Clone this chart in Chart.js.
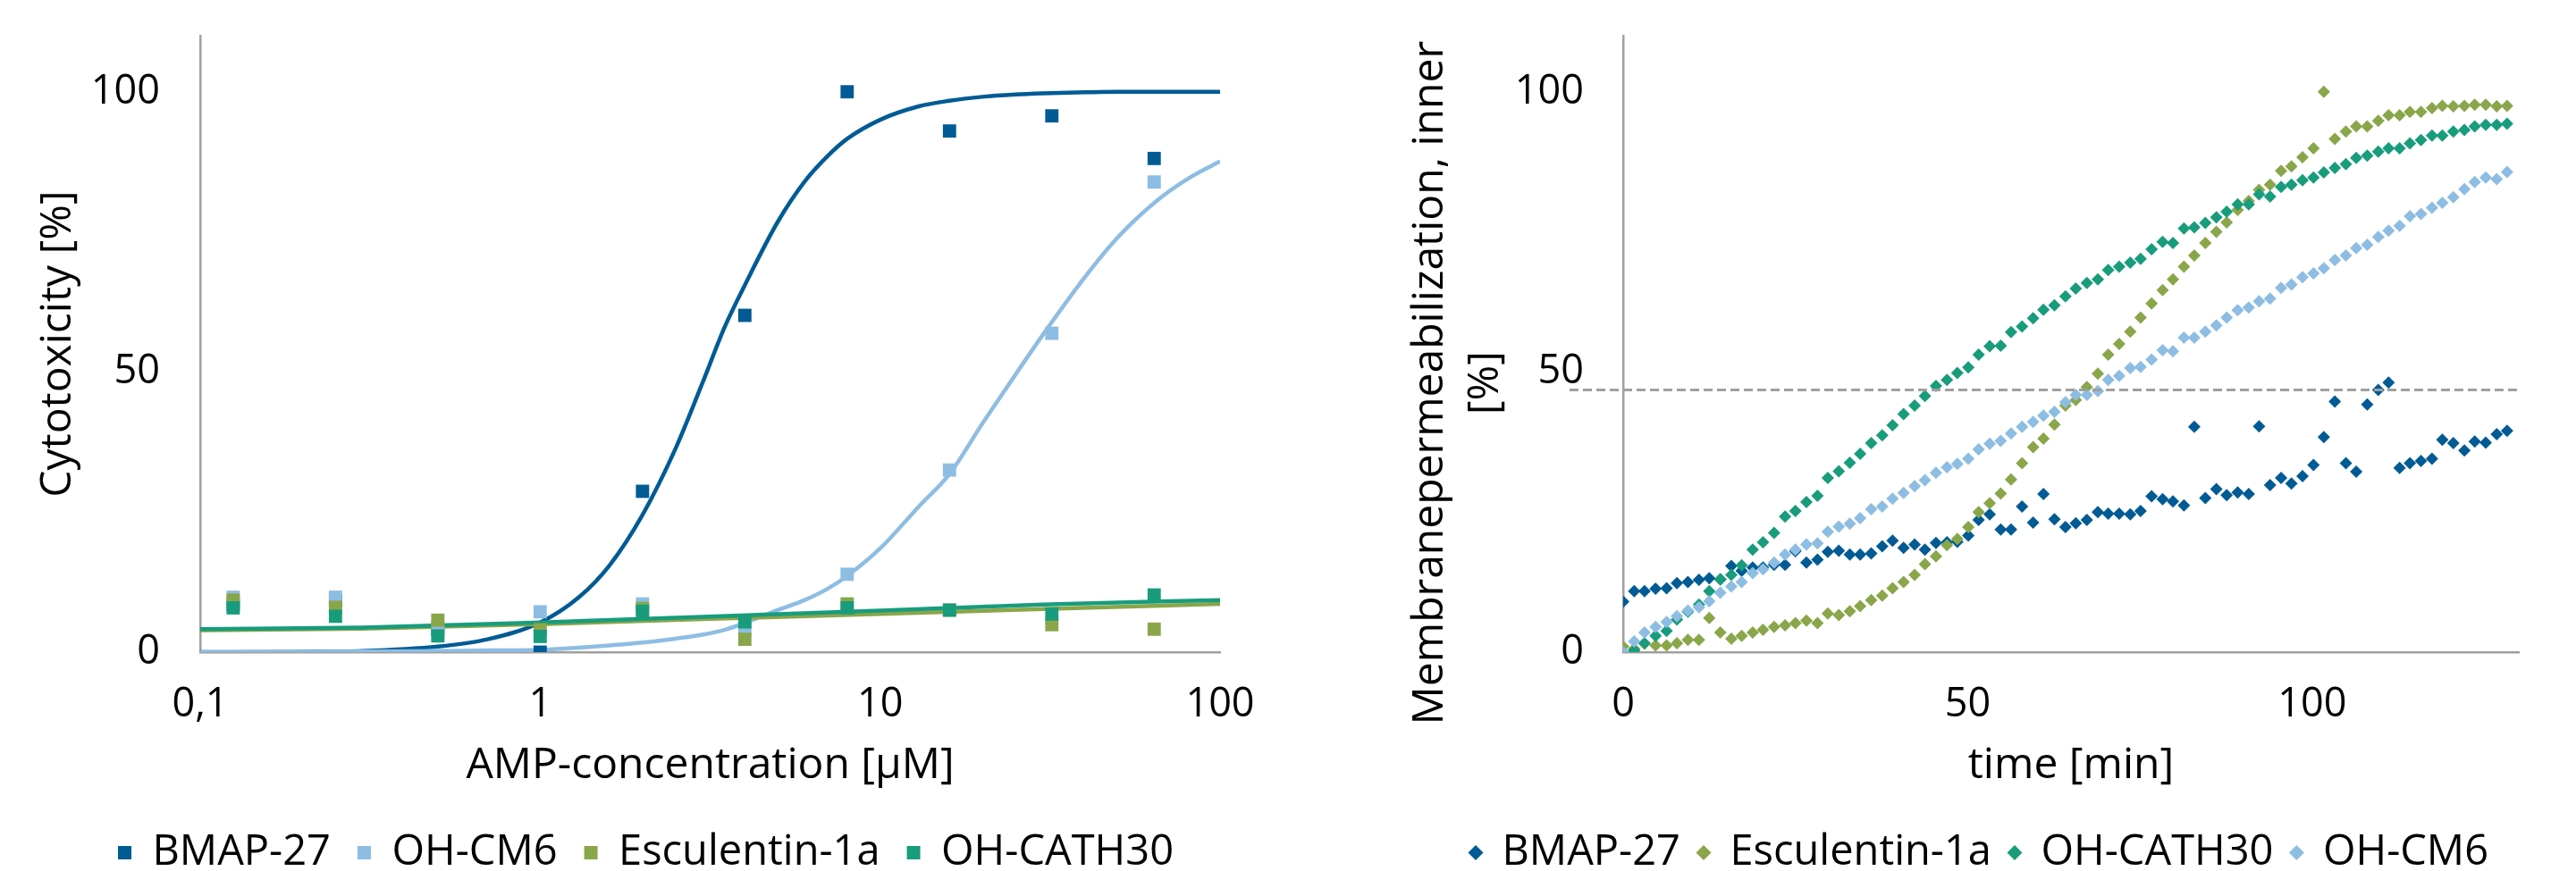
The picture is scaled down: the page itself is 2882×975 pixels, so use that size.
<!DOCTYPE html>
<html>
<head>
<meta charset="utf-8">
<script src="https://cdn.jsdelivr.net/npm/chart.js@4.4.1/dist/chart.umd.min.js"></script>
<style>
  html, body { margin: 0; padding: 0; background: #fff; }
  .wrap { display: flex; width: 2882px; height: 975px; }
  canvas { display: block; }
</style>
</head>
<body>
<div class="wrap">
  <canvas id="cytoChart" width="1441" height="975"></canvas>
  <canvas id="permChart" width="1441" height="975"></canvas>
</div>
<script>
// --- left panel: cytotoxicity vs. AMP concentration ---
const concentrations = [0.125, 0.25, 0.5, 1, 2, 4, 8, 16, 32, 64];
const cytoBmap  = [8.5, 9.2, 4.0, 0, 28.7, 60.1, 100, 93.0, 95.7, 88.1];
const cytoOhCm6 = [9.8, 9.8, 4.5, 7.2, 8.6, 4.3, 13.9, 32.5, 56.9, 83.9];
const cytoEsc   = [9.3, 8.0, 5.7, 4.0, 7.8, 2.3, 8.6, 7.5, 4.9, 4.1];
const cytoCath  = [7.9, 6.4, 2.9, 2.8, 7.3, 5.4, 7.9, 7.5, 6.8, 10.2];

// fitted curves
const fitConc  = [0.1, 0.2, 0.3, 0.5, 0.7, 1, 1.3, 1.6, 2, 2.5, 3, 3.5, 4, 5, 6, 7, 8, 10, 13, 16, 20, 25, 30, 40, 50, 65, 80, 100];
const fitBmap  = [0, 0.05, 0.2, 1.0, 2.3, 5.3, 9.8, 15.5, 24.5, 36.3, 48.0, 58.2, 65.5, 76.8, 84.0, 88.5, 91.6, 95.0, 97.4, 98.4, 99.1, 99.5, 99.7, 99.9, 100, 100, 100, 100];
const fitOhCm6 = [0, 0.05, 0.1, 0.2, 0.3, 0.4, 0.8, 1.2, 1.7, 2.4, 3.1, 4.0, 5.2, 7.5, 9.3, 11.3, 13.6, 18.5, 26.0, 31.8, 40.8, 49.5, 56.5, 66.9, 74.0, 80.5, 84.4, 87.6];
const lineConc = [0.1, 0.3, 1, 3, 10, 30, 100];
const fitEsc   = [3.9, 4.2, 5.0, 5.9, 6.8, 7.7, 8.6];
const fitCath  = [4.1, 4.4, 5.3, 6.3, 7.4, 8.5, 9.3];

const concTicks = [0.1, 1, 10, 100];
const concTickLabels = ['0,1', '1', '10', '100'];
const pctTicks = [0, 50, 100];

// --- right panel: inner membrane permeabilization over time ---
const times = [
  0, 1.6, 3.1, 4.7, 6.3, 7.8, 9.4, 11.0, 12.5, 14.1,
  15.7, 17.2, 18.8, 20.3, 21.9, 23.5, 25.0, 26.6, 28.2, 29.7,
  31.3, 32.9, 34.4, 36.0, 37.6, 39.1, 40.7, 42.3, 43.8, 45.4,
  47.0, 48.5, 50.1, 51.6, 53.2, 54.8, 56.3, 57.9, 59.5, 61.0,
  62.6, 64.2, 65.7, 67.3, 68.9, 70.4, 72.0, 73.6, 75.1, 76.7,
  78.3, 79.8, 81.4, 82.9, 84.5, 86.1, 87.6, 89.2, 90.8, 92.3,
  93.9, 95.5, 97.0, 98.6, 100.2, 101.7, 103.3, 104.9, 106.4, 108.0,
  109.6, 111.1, 112.7, 114.2, 115.8, 117.4, 118.9, 120.5, 122.1, 123.6,
  125.2, 126.8, 128.3
];
const permBmap = [
  9.0, 10.9, 10.9, 11.3, 11.4, 12.3, 12.5, 12.9, 13.2, 13.0,
  15.4, 14.5, 15.1, 15.1, 15.6, 15.6, 18.0, 16.0, 16.5, 17.9,
  18.1, 17.4, 17.4, 17.6, 18.9, 19.9, 18.6, 19.2, 18.3, 19.5,
  19.6, 19.7, 20.8, 23.6, 24.6, 21.9, 21.9, 26.0, 23.1, 28.2,
  23.7, 22.3, 23.0, 23.6, 25.0, 24.7, 24.7, 24.6, 25.2, 27.8,
  27.3, 26.9, 26.2, 40.2, 27.5, 29.1, 28.0, 28.5, 28.2, 40.3,
  29.8, 31.1, 30.1, 31.4, 33.4, 38.4, 44.7, 33.7, 32.2, 44.2,
  46.8, 48.1, 32.9, 33.7, 34.1, 34.5, 37.9, 37.3, 36.0, 37.6,
  37.4, 38.9, 39.5
];
const permEsc = [
  1.0, 0.6, 1.5, 1.2, 1.2, 1.6, 2.2, 2.2, 6.1, 3.5,
  2.4, 2.9, 3.5, 4.0, 4.5, 4.8, 5.2, 5.6, 5.2, 6.9,
  6.6, 7.3, 8.2, 9.3, 10.1, 11.4, 12.5, 13.8, 15.7, 17.1,
  19.1, 20.2, 22.3, 25.0, 26.6, 28.3, 30.8, 33.7, 36.6, 38.1,
  40.6, 44.0, 45.0, 47.3, 49.7, 53.1, 55.0, 57.2, 59.7, 62.2,
  64.6, 66.5, 68.8, 70.8, 73.0, 75.0, 76.7, 78.9, 80.5, 82.5,
  83.4, 85.9, 86.7, 88.3, 89.9, 100.0, 91.6, 92.9, 93.8, 93.8,
  94.8, 95.8, 95.8, 96.4, 96.4, 97.1, 97.5, 97.4, 97.5, 97.7,
  97.7, 97.4, 97.5
];
const permCath = [
  0, 0.3, 1.6, 2.9, 3.8, 5.8, 7.2, 8.5, 10.9, 13.0,
  13.8, 15.5, 18.3, 19.6, 21.3, 24.2, 25.2, 26.8, 27.9, 31.1,
  32.3, 33.8, 35.4, 37.3, 38.7, 40.5, 42.5, 44.0, 45.7, 47.5,
  48.6, 49.8, 50.8, 53.1, 54.6, 54.7, 57.1, 58.1, 59.6, 61.1,
  61.9, 63.5, 64.9, 65.9, 66.5, 68.2, 68.8, 69.5, 70.2, 71.9,
  73.2, 73.0, 75.6, 75.8, 76.6, 77.6, 78.6, 79.9, 79.9, 81.7,
  81.3, 83.0, 83.4, 84.2, 84.7, 85.6, 86.4, 87.1, 88.2, 88.6,
  89.3, 89.9, 89.9, 90.8, 91.4, 92.2, 92.2, 92.9, 93.2, 93.8,
  94.1, 94.1, 94.3
];
const permOhCm6 = [
  0, 1.9, 3.5, 4.5, 5.4, 6.4, 7.4, 8.0, 9.1, 10.6,
  11.7, 12.5, 14.1, 14.8, 16.0, 17.4, 18.3, 19.2, 19.4, 21.5,
  22.4, 22.9, 23.9, 25.5, 26.0, 27.4, 28.4, 29.6, 30.7, 32.0,
  33.0, 33.6, 34.5, 36.2, 37.2, 37.7, 39.0, 40.2, 41.1, 42.2,
  42.9, 44.6, 45.9, 45.9, 46.6, 48.6, 49.3, 50.7, 50.9, 52.2,
  53.9, 53.7, 56.1, 56.1, 57.2, 58.3, 59.7, 61.0, 61.5, 62.6,
  63.1, 65.0, 65.6, 66.9, 67.6, 68.5, 70.0, 70.8, 72.1, 72.7,
  74.1, 75.2, 76.1, 77.8, 78.2, 79.3, 80.2, 81.2, 82.6, 83.9,
  84.7, 84.4, 85.7
];
const timeTicks = [0, 50, 100];
const refLevel = 46.8;   // dashed guide line

// colours
const BLUE = '#005b94';
const LIGHT_BLUE = '#8dbde3';
const OLIVE = '#8aa64a';
const TEAL = '#189c7c';
const AXIS = '#a0a0a0';

Chart.defaults.font.family = "'Open Sans', sans-serif";
Chart.defaults.color = '#000';

function pointSet(label, xs, ys, color, style, radius, order) {
  return {
    label: label,
    data: xs.map((x, i) => ({ x: x, y: ys[i] })),
    pointStyle: style,
    pointRadius: radius,
    backgroundColor: color,
    borderColor: color,
    borderWidth: 0,
    order: order
  };
}

function curve(xs, ys, color, order) {
  return {
    label: '',
    data: xs.map((x, i) => ({ x: x, y: ys[i] })),
    showLine: true,
    borderColor: color,
    borderWidth: 4.5,
    pointRadius: 0,
    cubicInterpolationMode: 'monotone',
    order: order
  };
}

function setTicks(values) {
  return function (scale) {
    scale.ticks = values.map(v => ({ value: v }));
  };
}

// fixed axis size; drop the label overhang padding so the plot keeps its top edge
function fixSize(prop, size) {
  return function (scale) {
    scale[prop] = size;
    scale.paddingTop = 0;
    scale.paddingBottom = 0;
    scale.paddingLeft = 0;
    scale.paddingRight = 0;
  };
}

// horizontal dashed line, reaching a bit left of the y axis
const refLinePlugin = {
  id: 'refLine',
  afterDatasetsDraw(chart) {
    const { ctx, chartArea, scales } = chart;
    const py = scales.y.getPixelForValue(refLevel);
    ctx.save();
    ctx.strokeStyle = '#a0a0a0';
    ctx.lineWidth = 3;
    ctx.setLineDash([10, 5]);
    ctx.beginPath();
    ctx.moveTo(chartArea.left - 60, py);
    ctx.lineTo(chartArea.right + 2, py);
    ctx.stroke();
    ctx.restore();
  }
};

// left chart
new Chart(document.getElementById('cytoChart'), {
  type: 'scatter',
  data: {
    datasets: [
      pointSet('BMAP-27', concentrations, cytoBmap, BLUE, 'rect', 10.5, 4),
      pointSet('OH-CM6', concentrations, cytoOhCm6, LIGHT_BLUE, 'rect', 10.5, 3),
      pointSet('Esculentin-1a', concentrations, cytoEsc, OLIVE, 'rect', 10.5, 2),
      pointSet('OH-CATH30', concentrations, cytoCath, TEAL, 'rect', 10.5, 1),
      curve(fitConc, fitBmap, BLUE, 8),
      curve(fitConc, fitOhCm6, LIGHT_BLUE, 7),
      curve(lineConc, fitEsc, OLIVE, 6),
      curve(lineConc, fitCath, TEAL, 5)
    ]
  },
  options: {
    responsive: false,
    animation: false,
    devicePixelRatio: 1,
    layout: { padding: { left: 80, right: 76, top: 40, bottom: 0 } },
    plugins: {
      legend: {
        position: 'bottom',
        maxHeight: 74,
        labels: {
          usePointStyle: true,
          boxWidth: 15,
          boxHeight: 15,
          padding: 30,
          color: '#000',
          font: { size: 47 },
          filter: item => item.datasetIndex < 4,
          sort: (a, b) => a.datasetIndex - b.datasetIndex
        }
      },
      tooltip: { enabled: false }
    },
    scales: {
      x: {
        type: 'logarithmic',
        min: 0.1,
        max: 100,
        grid: { display: false, drawTicks: false },
        border: { color: AXIS, width: 2.5 },
        afterBuildTicks: setTicks(concTicks),
        afterFit: fixSize('height', 171),
        ticks: {
          padding: 32,
          maxRotation: 0,
          font: { size: 45 },
          color: '#000',
          callback: (v, i) => concTickLabels[i]
        },
        title: {
          display: true,
          text: 'AMP-concentration [µM]',
          color: '#000',
          font: { size: 48 },
          padding: { top: 0, bottom: 15 }
        }
      },
      y: {
        min: 0,
        max: 110,
        grid: { display: false, drawTicks: false },
        border: { color: AXIS, width: 2.5 },
        afterBuildTicks: setTicks(pctTicks),
        afterFit: fixSize('width', 144),
        ticks: { padding: 45, font: { size: 45 }, color: '#000' },
        title: {
          display: true,
          text: 'Cytotoxicity [%]',
          color: '#000',
          font: { size: 48 },
          padding: { top: -43, bottom: 0 }
        }
      }
    }
  }
});

// right chart
new Chart(document.getElementById('permChart'), {
  type: 'scatter',
  data: {
    datasets: [
      pointSet('BMAP-27', times, permBmap, BLUE, 'rectRot', 7, 4),
      pointSet('Esculentin-1a', times, permEsc, OLIVE, 'rectRot', 7, 3),
      pointSet('OH-CATH30', times, permCath, TEAL, 'rectRot', 7, 2),
      pointSet('OH-CM6', times, permOhCm6, LIGHT_BLUE, 'rectRot', 7, 1)
    ]
  },
  options: {
    responsive: false,
    animation: false,
    devicePixelRatio: 1,
    layout: { padding: { left: 170, right: 64, top: 40, bottom: 0 } },
    plugins: {
      legend: {
        position: 'bottom',
        maxHeight: 64,
        labels: {
          usePointStyle: true,
          boxWidth: 12,
          boxHeight: 12,
          padding: 20,
          color: '#000',
          font: { size: 47 },
          sort: (a, b) => a.datasetIndex - b.datasetIndex
        }
      },
      tooltip: { enabled: false }
    },
    scales: {
      x: {
        type: 'linear',
        min: 0,
        max: 130,
        grid: { display: false, drawTicks: false },
        border: { color: AXIS, width: 2.5 },
        afterBuildTicks: setTicks(timeTicks),
        afterFit: fixSize('height', 181),
        ticks: { padding: 32, maxRotation: 0, font: { size: 45 }, color: '#000' },
        title: {
          display: true,
          text: 'time [min]',
          color: '#000',
          font: { size: 48 },
          padding: { top: 0, bottom: 25 }
        }
      },
      y: {
        min: 0,
        max: 110,
        grid: { display: false, drawTicks: false },
        border: { color: AXIS, width: 2.5 },
        afterBuildTicks: setTicks(pctTicks),
        afterFit: fixSize('width', 205),
        ticks: { padding: 44, font: { size: 45 }, color: '#000' },
        title: {
          display: true,
          // trailing spaces push the centred title down, as in the original
          text: ['Membranepermeabilization, inner       ', '[%]       '],
          color: '#000',
          font: { size: 48, lineHeight: '62px' },
          padding: { top: -42, bottom: 0 }
        }
      }
    }
  },
  plugins: [refLinePlugin]
});
</script>
</body>
</html>
